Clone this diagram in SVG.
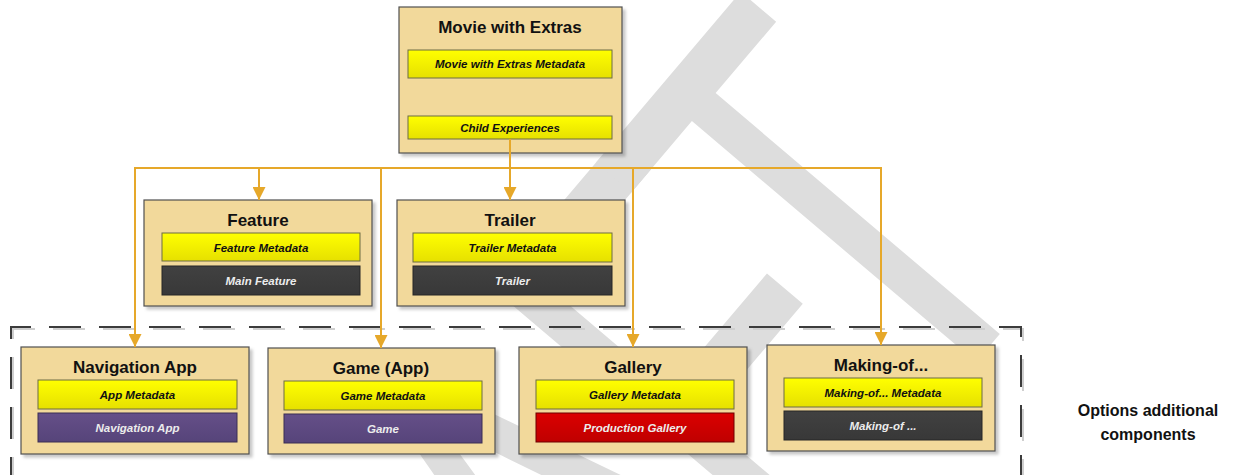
<svg xmlns="http://www.w3.org/2000/svg" width="1236" height="475" viewBox="0 0 1236 475">
<defs>
<style>
.box{fill:#f2d99b;stroke:#505050;stroke-width:1.2;filter:url(#sh)}
.title{font-family:"Liberation Sans",Arial,sans-serif;font-size:17px;font-weight:bold;fill:#111;text-anchor:middle}
.bt{font-family:"Liberation Sans",Arial,sans-serif;font-size:11.5px;font-weight:bold;font-style:italic;text-anchor:middle;fill:#111}
.wt{fill:#ececec}
.meta{fill:url(#gy);stroke:#6d6d45;stroke-width:1}
.dark{fill:url(#gd);stroke:#262626;stroke-width:1}
.purple{fill:url(#gp);stroke:#3a2e55;stroke-width:1}
.red{fill:url(#gr);stroke:#6e0000;stroke-width:1}
.conn{fill:none;stroke:#e6a82a;stroke-width:2;marker-end:url(#ah)}
.opt{font-family:"Liberation Sans",Arial,sans-serif;font-size:16px;font-weight:bold;fill:#111;text-anchor:middle}
</style>
<filter id="sh" x="-5%" y="-5%" width="115%" height="120%">
<feDropShadow dx="3" dy="3" stdDeviation="1.5" flood-color="#000" flood-opacity="0.22"/>
</filter>
<linearGradient id="gy" x1="0" y1="0" x2="0" y2="1"><stop offset="0" stop-color="#ffff00"/><stop offset="1" stop-color="#e6e000"/></linearGradient>
<linearGradient id="gd" x1="0" y1="0" x2="0" y2="1"><stop offset="0" stop-color="#414141"/><stop offset="1" stop-color="#383838"/></linearGradient>
<linearGradient id="gp" x1="0" y1="0" x2="0" y2="1"><stop offset="0" stop-color="#654f88"/><stop offset="1" stop-color="#56447a"/></linearGradient>
<linearGradient id="gr" x1="0" y1="0" x2="0" y2="1"><stop offset="0" stop-color="#db0000"/><stop offset="1" stop-color="#bf0000"/></linearGradient>
<marker id="ah" markerUnits="userSpaceOnUse" markerWidth="13" markerHeight="13" refX="13" refY="6.5" orient="auto">
<path d="M0,0 L13,6.5 L0,13 z" fill="#e6a82a"/>
</marker>
</defs>
<rect width="1236" height="475" fill="#ffffff"/>
<g id="watermark" transform="translate(988,348) rotate(-49.7) scale(0.65,1)">
<text x="-1720 -1280 -840 -473 -186" y="0" font-family="Liberation Sans, Arial, sans-serif" font-size="609" fill="#dddddd">DRAFT</text>
</g>
<g id="options-group">
<path d="M13,480 V329 H1023 V480" fill="none" stroke="#cfcfcf" stroke-width="2" stroke-dasharray="32 18" stroke-dashoffset="9"/>
<path d="M11,480 V327 H1021 V480" fill="none" stroke="#3c3c3c" stroke-width="2" stroke-dasharray="32 18" stroke-dashoffset="9"/>
<text class="opt" x="1148" y="416">Options additional</text>
<text class="opt" x="1148" y="440">components</text>
</g>
<g id="movie">
<rect class="box" x="399" y="7" width="223" height="146"/>
<text class="title" x="510" y="33">Movie with Extras</text>
<rect class="meta" x="408" y="50" width="204" height="28"/>
<text class="bt" x="510" y="67.5">Movie with Extras Metadata</text>
<rect class="meta" x="408" y="116" width="204" height="23"/>
<text class="bt" x="510" y="131.5">Child Experiences</text>
</g>
<g id="feature">
<rect class="box" x="144" y="200" width="228" height="106"/>
<text class="title" x="258" y="226">Feature</text>
<rect class="meta" x="162" y="233" width="198" height="28"/>
<text class="bt" x="261" y="251.5">Feature Metadata</text>
<rect class="dark" x="162" y="266" width="198" height="29"/>
<text class="bt wt" x="261" y="284.5">Main Feature</text>
</g>
<g id="trailer">
<rect class="box" x="397" y="200" width="228" height="106"/>
<text class="title" x="510" y="226">Trailer</text>
<rect class="meta" x="413" y="233" width="199" height="29"/>
<text class="bt" x="512.5" y="251.5">Trailer Metadata</text>
<rect class="dark" x="413" y="266" width="199" height="29"/>
<text class="bt wt" x="512.5" y="284.5">Trailer</text>
</g>
<g id="navigation-app">
<rect class="box" x="21" y="347" width="228" height="107"/>
<text class="title" x="135" y="373">Navigation App</text>
<rect class="meta" x="38" y="380" width="199" height="29"/>
<text class="bt" x="137.5" y="398.5">App Metadata</text>
<rect class="purple" x="38" y="413" width="199" height="29"/>
<text class="bt wt" x="137.5" y="431.5">Navigation App</text>
</g>
<g id="game">
<rect class="box" x="268" y="348" width="227" height="106"/>
<text class="title" x="381" y="374">Game (App)</text>
<rect class="meta" x="284" y="381" width="198" height="29"/>
<text class="bt" x="383" y="399.5">Game Metadata</text>
<rect class="purple" x="284" y="414" width="198" height="29"/>
<text class="bt wt" x="383" y="432.5">Game</text>
</g>
<g id="gallery">
<rect class="box" x="519" y="347" width="228" height="107"/>
<text class="title" x="633" y="373">Gallery</text>
<rect class="meta" x="536" y="380" width="198" height="29"/>
<text class="bt" x="635" y="398.5">Gallery Metadata</text>
<rect class="red" x="536" y="413" width="198" height="29"/>
<text class="bt wt" x="635" y="431.5">Production Gallery</text>
</g>
<g id="making-of">
<rect class="box" x="767" y="345" width="228" height="106"/>
<text class="title" x="881" y="371">Making-of...</text>
<rect class="meta" x="784" y="378" width="198" height="29"/>
<text class="bt" x="883" y="396.5">Making-of... Metadata</text>
<rect class="dark" x="784" y="411" width="198" height="29"/>
<text class="bt wt" x="883" y="429.5">Making-of ...</text>
</g>
<g id="connectors">
<path class="conn" d="M510,139 V168 H259 V200"/>
<path class="conn" d="M510,139 V200"/>
<path class="conn" d="M510,139 V168 H135 V347"/>
<path class="conn" d="M510,139 V168 H381 V348"/>
<path class="conn" d="M510,139 V168 H633 V347"/>
<path class="conn" d="M510,139 V168 H881 V345"/>
</g>
</svg>
